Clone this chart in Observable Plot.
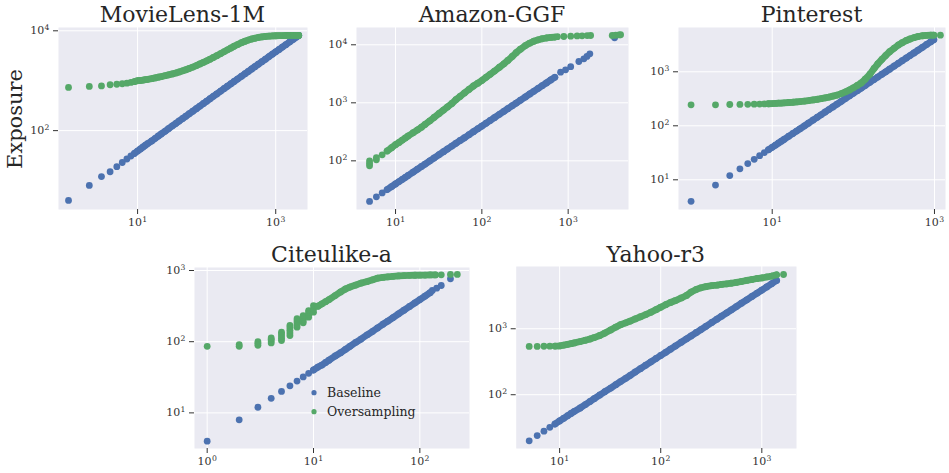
<!DOCTYPE html>
<html><head><meta charset="utf-8">
<script src="https://cdn.jsdelivr.net/npm/d3@7"></script>
<script src="https://cdn.jsdelivr.net/npm/@observablehq/plot@0.6"></script>
<style>
html,body{margin:0;padding:0;background:#fff;}
#chart{position:relative;width:949px;height:473px;overflow:hidden;font-family:"DejaVu Serif",serif;}
#overlay{position:absolute;left:0;top:0;pointer-events:none;}
</style></head><body>
<div id="chart"></div>
<script>
// ---------- data ----------
const seriesNames = ["Baseline", "Oversampling"];
const titles = ["MovieLens-1M", "Amazon-GGF", "Pinterest", "Citeulike-a", "Yahoo-r3"];
const yLabel = "Exposure";

// MovieLens-1M
const mlBaseX = [1,2,3,4,5,6,7,8,9,10,11,12,13,14,16,18,20,22,25,28,32,36,40,45,50,56,63,71,80,90,100,112,125,140,160,180,200,225,250,280,320,360,400,450,500,560,630,710,800,900,1000,1120,1250,1400,1600,1800,2000,2150];
const mlBaseY = [4,8,12,15,19,23,27,31,35,39,43,47,51,55,62,70,78,86,97,109,125,140,156,175,195,218,245,276,311,350,389,435,486,544,621,698,775,870,966,1080,1233,1385,1537,1727,1915,2142,2405,2706,3044,3418,3790,4240,4725,5280,6020,6760,7500,8050];
const mlOverX = mlBaseX;
const mlOverY = [735,770,785,830,850,870,895,925,960,1000,1010,1030,1050,1065,1100,1140,1180,1210,1260,1310,1370,1430,1500,1580,1660,1760,1880,2010,2170,2340,2500,2700,2920,3170,3500,3830,4150,4530,4900,5300,5780,6180,6520,6850,7100,7350,7540,7700,7820,7900,7960,8000,8030,8050,8070,8080,8090,8100];

// Amazon-GGF
const amzBaseX = [5,6,7,8,9,10,11,12,13,14,16,18,20,22,25,28,32,36,40,45,50,56,63,71,80,90,100,112,125,140,160,180,200,225,250,280,320,360,400,450,500,560,630,700,817,933,1070,1330,1520,1650,1783,3450];
const amzBaseY = [20,24,28,32,36,40,44,48,52,56,64,72,80,88,100,112,128,144,160,180,200,224,250,282,318,358,397,445,496,555,634,713,792,890,990,1108,1265,1422,1580,1776,1972,2206,2480,2755,3370,3700,4200,5150,5740,6300,7000,13200];
const amzOverX = [5,5,5,6,6,7,8,9,10,11,12,13,14,16,18,20,22,25,28,32,36,40,45,50,56,63,71,80,90,100,112,125,140,160,180,200,225,250,280,320,360,400,450,500,560,630,700,750,890,1070,1270,1450,1660,1820,3240,3550,3880,4050];
const amzOverY = [82,90,100,104,114,127,148,168,190,208,228,248,268,305,342,380,425,490,560,655,750,850,975,1130,1290,1480,1700,1950,2180,2420,2750,3100,3520,4100,4700,5370,6300,7300,8400,9700,10700,11500,12200,12700,13100,13400,13600,13800,13900,14050,14200,14300,14400,14450,14450,14600,14800,14900];

// Pinterest
const pinBaseX = [1,2,3,4,5,6,7,8,9,10,11,12,13,14,16,18,20,22,25,28,32,36,40,45,50,56,63,71,80,90,100,112,125,140,160,180,200,225,250,280,320,360,400,450,500,560,630,710,800,900,980];
const pinBaseY = [4,8,12,16,20,24,28,32,36,40,44,48,52,56,64,72,80,88,100,112,128,144,160,180,200,224,252,284,320,360,400,448,500,560,640,720,800,900,1000,1120,1280,1440,1600,1800,2000,2240,2520,2840,3200,3600,3920];
const pinOverX = [1,2,3,4,5,6,7,8,9,10,11,12,13,14,16,18,20,22,25,28,32,36,40,45,50,56,63,71,80,90,100,112,125,140,160,180,200,225,250,280,320,360,400,450,500,560,630,710,800,900,980,1183];
const pinOverY = [245,245,248,249,250,251,252,254,256,258,260,262,264,266,270,273,277,281,287,293,302,310,318,330,340,355,370,395,425,462,505,560,620,730,900,1150,1400,1700,2000,2350,2750,3150,3450,3800,4050,4300,4500,4650,4720,4760,4770,4770];

// Citeulike-a
const ciBaseX = [1,2,3,4,5,6,7,8,9,10,11,12,13,14,16,18,20,22,25,28,32,36,40,45,50,56,63,71,80,90,100,112,125,131,144,159,194];
const ciBaseY = [4,8,12,16,20,24,28,32,36,40,44,47,51,55,63,70,78,86,98,109,125,140,156,176,195,218,246,277,312,351,390,437,488,524,565,616,764];
const ciOverX = [1,2,2,3,3,3,4,4,4,4,5,5,5,5,5,6,6,6,6,6,7,7,7,7,7,8,8,8,8,8,9,9,9,9,10,10,10,11,12,13,14,16,18,20,22,25,28,32,36,40,45,50,56,63,71,80,90,100,112,125,140,159,194,225];
const ciOverY = [86,86,91,89,95,100,96,102,108,113,104,112,120,128,136,122,133,145,157,169,160,172,185,197,210,184,196,208,220,233,221,240,257,274,260,290,322,315,340,365,390,445,500,550,585,625,665,700,740,780,800,815,828,840,850,855,858,860,863,866,868,870,880,880];

// Yahoo-r3
const yaBaseX = [5,6,7,8,9,10,11,12,13,14,16,18,20,22,25,28,32,36,40,45,50,56,63,71,80,90,100,112,125,140,160,180,200,225,250,280,320,360,400,450,500,560,630,710,800,900,1000,1120,1250,1400];
const yaBaseY = [20,24,28,32,36,40,44,48,52,56,63,71,79,87,99,111,126,142,158,177,197,221,248,280,315,354,393,440,490,548,626,703,780,877,973,1090,1245,1400,1553,1745,1938,2170,2440,2745,3090,3470,3855,4310,4810,5390];
const yaOverX = [5,6,7,8,9,10,11,12,13,14,16,18,20,22,25,28,32,36,40,45,50,56,63,71,80,90,100,112,125,140,160,180,200,225,250,280,320,360,400,450,500,560,630,710,800,900,1000,1120,1250,1400,1640];
const yaOverY = [540,540,543,545,547,550,565,580,595,610,640,670,700,735,790,860,960,1060,1150,1230,1310,1410,1520,1640,1780,1950,2120,2320,2500,2680,2930,3200,3600,3950,4180,4350,4500,4580,4700,4800,4900,5040,5210,5400,5580,5780,5900,6100,6300,6580,6650];

// tick values
const mlXTicks = [10, 1000], mlYTicks = [100, 10000];
const amzXTicks = [10, 100, 1000], amzYTicks = [100, 1000, 10000];
const pinXTicks = [10, 1000], pinYTicks = [10, 100, 1000];
const ciXTicks = [1, 10, 100], ciYTicks = [10, 100, 1000];
const yaXTicks = [10, 100, 1000], yaYTicks = [100, 1000];

// ---------- styling / layout ----------
const BLUE = "#4C72B0", GREEN = "#55A868", BG = "#EAEAF2", INK = "#262626";
const R = 3.4;
const SUP = {"0":"⁰","1":"¹","2":"²","3":"³","4":"⁴","5":"⁵","-":"⁻"};
const PLAIN = {"⁰":"0","¹":"1","²":"2","³":"3","⁴":"4","⁵":"5","⁻":"-"};
const pow10 = v => "10" + String(Math.round(Math.log10(v))).split("").map(c => SUP[c]).join("");
const pts = (xs, ys) => xs.map((x, i) => ({x, y: ys[i]}));

const panels = [
  {title: titles[0], left: 0, top: 0, width: 320, height: 232, m: [27, 13, 23, 58],
   xd: [0.716, 2884], yd: [2.63, 11650], xt: mlXTicks, yt: mlYTicks,
   s: [[mlBaseX, mlBaseY, BLUE, [9, 2150]], [mlOverX, mlOverY, GREEN, [9, 2150]]]},
  {title: titles[1], left: 310, top: 0, width: 330, height: 232, m: [27, 12, 23, 46],
   xd: [3.53, 5000], yd: [14.5, 19860], xt: amzXTicks, yt: amzYTicks,
   s: [[amzBaseX, amzBaseY, BLUE, [8, 700]], [amzOverX, amzOverY, GREEN, [8, 700]]]},
  {title: titles[2], left: 630, top: 0, width: 319, height: 232, m: [27, 4, 23, 48],
   xd: [0.70, 1367], yd: [2.82, 6610], xt: pinXTicks, yt: pinYTicks,
   s: [[pinBaseX, pinBaseY, BLUE, [9, 980]], [pinOverX, pinOverY, GREEN, [9, 980]]]},
  {title: titles[3], left: 150, top: 240, width: 330, height: 233, m: [27, 11, 25, 44],
   xd: [0.76, 293], yd: [3.16, 1102], xt: ciXTicks, yt: ciYTicks,
   s: [[ciBaseX, ciBaseY, BLUE, [10, 125]], [ciOverX, ciOverY, GREEN, [11, 140]]]},
  {title: titles[4], left: 470, top: 240, width: 335, height: 233, m: [26, 9, 25, 45.7],
   xd: [3.72, 2203], yd: [15.3, 8790], xt: yaXTicks, yt: yaYTicks,
   s: [[yaBaseX, yaBaseY, BLUE, [9, 1400]], [yaOverX, yaOverY, GREEN, [9, 1400]]]}
];

// turn "10²" into "10" + a raised, smaller exponent (as real text)
function styleExponents(svg) {
  svg.querySelectorAll("text").forEach(t => {
    const s = t.textContent;
    const m = /^10([⁰¹²³⁴⁵⁻]+)$/.exec(s);
    if (!m) return;
    const exp = m[1].split("").map(c => PLAIN[c]).join("");
    while (t.firstChild) t.removeChild(t.firstChild);
    const a = document.createElementNS("http://www.w3.org/2000/svg", "tspan");
    a.textContent = "10";
    const b = document.createElementNS("http://www.w3.org/2000/svg", "tspan");
    b.textContent = exp;
    b.setAttribute("font-size", "7.7");
    b.setAttribute("dy", "-4.2");
    b.setAttribute("dx", "0.4");
    t.appendChild(a); t.appendChild(b);
  });
}

const chart = document.getElementById("chart");
for (const p of panels) {
  const marks = [
    Plot.frame({fill: BG, stroke: "none"}),
    Plot.gridX(p.xt, {stroke: "#fff", strokeOpacity: 1, strokeWidth: 1}),
    Plot.gridY(p.yt, {stroke: "#fff", strokeOpacity: 1, strokeWidth: 1}),
    Plot.axisX(p.xt, {tickSize: 5, tickPadding: 4, tickFormat: pow10, fontSize: 11, label: null}),
    Plot.axisY(p.yt, {tickSize: 5, tickPadding: 4, tickFormat: pow10, fontSize: 11, label: null})
  ];
  for (const [xs, ys, color, dense] of p.s) {
    const d = pts(xs, ys);
    const run = d.filter(e => e.x >= dense[0] && e.x <= dense[1]);
    marks.push(Plot.line(run, {x: "x", y: "y", stroke: color, strokeWidth: 2 * R, strokeLinecap: "round", strokeLinejoin: "round"}));
    marks.push(Plot.dot(d, {x: "x", y: "y", r: R, fill: color, stroke: "none"}));
  }
  const svg = Plot.plot({
    width: p.width, height: p.height,
    marginTop: p.m[0], marginRight: p.m[1], marginBottom: p.m[2], marginLeft: p.m[3],
    x: {type: "log", domain: p.xd},
    y: {type: "log", domain: p.yd},
    style: {background: "transparent", color: "#333", fontFamily: "DejaVu Serif", fontSize: "11px", overflow: "visible"},
    marks
  });
  styleExponents(svg);
  svg.style.position = "absolute";
  svg.style.left = p.left + "px";
  svg.style.top = p.top + "px";
  chart.appendChild(svg);
  p.cx = p.left + p.m[3] + (p.width - p.m[3] - p.m[1]) / 2;
}

// overlay: titles, shared y label, legend
const ns = "http://www.w3.org/2000/svg";
const ov = document.createElementNS(ns, "svg");
ov.setAttribute("id", "overlay");
ov.setAttribute("width", 949); ov.setAttribute("height", 473);
function txt(str, x, y, size, anchor, extra) {
  const t = document.createElementNS(ns, "text");
  t.textContent = str;
  t.setAttribute("x", x); t.setAttribute("y", y);
  t.setAttribute("font-size", size); t.setAttribute("font-family", "DejaVu Serif");
  t.setAttribute("fill", INK); t.setAttribute("text-anchor", anchor);
  if (extra) t.setAttribute("transform", extra);
  ov.appendChild(t);
}
panels.forEach((p, i) => txt(p.title, p.cx, i < 3 ? 21.7 : 261.7, 22, "middle"));
txt(yLabel, 0, 0, 21, "middle", "translate(22.3,119) rotate(-90)");
const legendColors = [BLUE, GREEN];
seriesNames.forEach((name, i) => {
  const cy = 392.7 + i * 19;
  const c = document.createElementNS(ns, "circle");
  c.setAttribute("cx", 314); c.setAttribute("cy", cy); c.setAttribute("r", 2.6);
  c.setAttribute("fill", legendColors[i]);
  ov.appendChild(c);
  txt(name, 327, cy + 4.6, 12.5, "start");
});
chart.appendChild(ov);
</script>
</body></html>
